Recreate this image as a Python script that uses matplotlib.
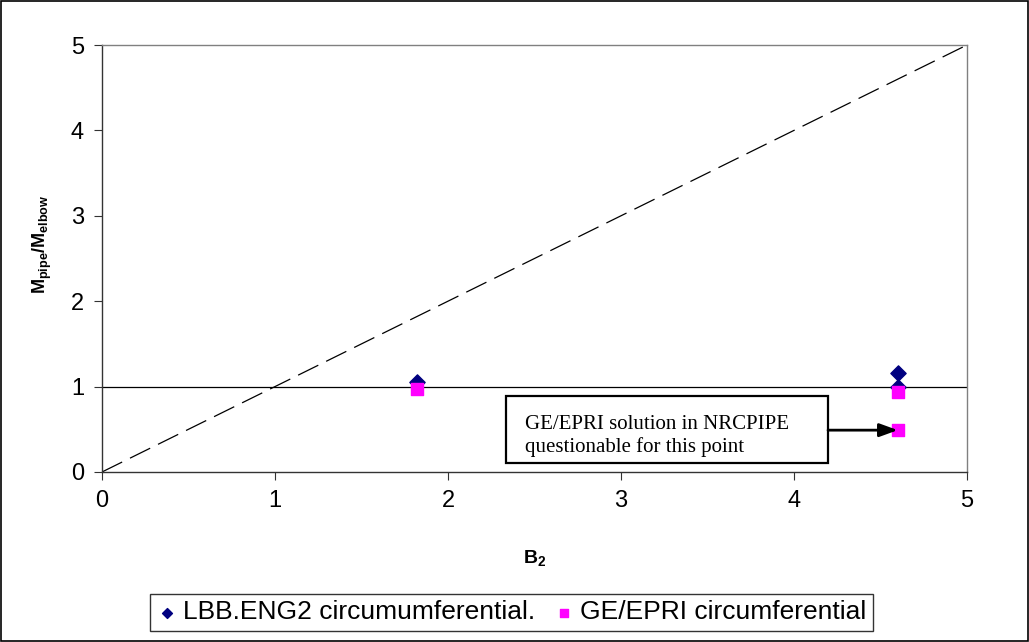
import matplotlib.pyplot as plt
from matplotlib.patches import Rectangle

# measured points
lbb_b2 = [1.82, 4.60, 4.60]
lbb_ratio = [1.05, 1.16, 1.00]
ge_b2 = [1.82, 4.60, 4.60]
ge_ratio = [0.97, 0.94, 0.49]

# reference lines: one-to-one and unity
diag_x = [0, 5]
diag_y = [0, 5]
unity_x = [0, 5]
unity_y = [1, 1]

ticks = [0, 1, 2, 3, 4, 5]

plt.rcParams["font.family"] = ["Liberation Sans", "DejaVu Sans"]
plt.rcParams["mathtext.fontset"] = "custom"
plt.rcParams["mathtext.rm"] = "Liberation Sans"
plt.rcParams["mathtext.bf"] = "Liberation Sans:bold"

fig = plt.figure(figsize=(10.29, 6.42), dpi=100)
ax = fig.add_axes([0.0991, 0.2648, 0.8406, 0.6651])

ax.plot(diag_x, diag_y, color="black", lw=0.9, dashes=(18, 7))
ax.plot(unity_x, unity_y, color="black", lw=0.9)

ax.scatter(lbb_b2, lbb_ratio, marker="D", s=60, color="#000080", zorder=3,
           label="LBB.ENG2 circumumferential.")
ax.scatter(ge_b2, ge_ratio, marker="s", s=85, color="#ff00ff", zorder=4,
           label="GE/EPRI circumferential")

ax.set_xlim(0, 5)
ax.set_ylim(0, 5)
ax.set_xticks(ticks)
ax.set_yticks(ticks)
ax.tick_params(labelsize=17, length=6, width=0.8, color="#333333", pad=7)
for side in ["left", "bottom", "top", "right"]:
    ax.spines[side].set_color("#808080")
    ax.spines[side].set_linewidth(1.0)
ax.spines["left"].set_color("#333333")
ax.spines["bottom"].set_color("#333333")

ax.set_xlabel(r"$\mathbf{B_2}$", fontsize=14)
ax.set_ylabel(r"$\mathbf{M_{pipe}/M_{elbow}}$", fontsize=13)
ax.xaxis.set_label_coords(0.5, -0.178)
ax.yaxis.set_label_coords(-0.056, 0.534)

# note box with arrow pointing at the questionable GE/EPRI point
note_box = Rectangle((2.335, 0.105), 1.862, 0.785, fc="white", ec="black",
                     lw=1.6, zorder=5)
ax.add_patch(note_box)
note_clip = Rectangle((2.335, 0.222), 1.862, 0.66, transform=ax.transData)
note = ax.text(2.445, 0.67, "GE/EPRI solution in NRCPIPE\nquestionable for this point",
               family=["Liberation Serif", "DejaVu Serif"], fontsize=15,
               ha="left", va="top", linespacing=1.2, zorder=6)
note.set_clip_path(note_clip)
ax.annotate("", xy=(4.6, 0.49), xytext=(4.197, 0.49),
            arrowprops=dict(arrowstyle="-|>,head_length=1.1,head_width=0.4",
                            color="black", lw=2.0, shrinkA=0, shrinkB=0),
            zorder=6)

leg = fig.legend(loc="center", bbox_to_anchor=(0.497, 0.046), ncol=2,
                 fontsize=19, frameon=True, fancybox=False, edgecolor="black",
                 handletextpad=0.2, columnspacing=0.7, borderpad=0.25,
                 handlelength=0.8, markerscale=0.65)
leg.get_frame().set_linewidth(1.0)

fig.add_artist(Rectangle((0.001, 0.002), 0.998, 0.996, transform=fig.transFigure,
                         fill=False, ec="black", lw=1.2))

fig.savefig("out.png", dpi=100)
plt.close(fig)
